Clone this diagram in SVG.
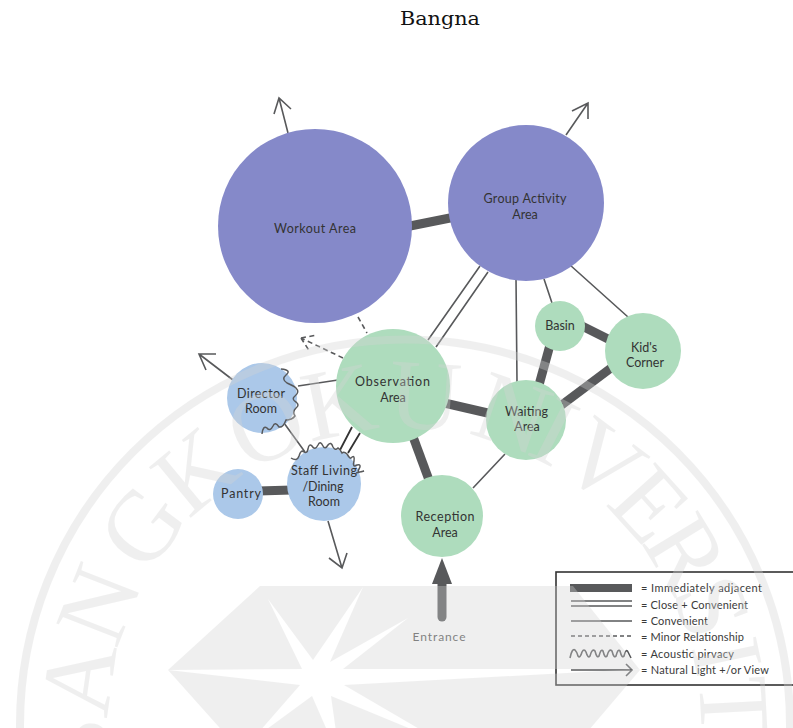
<svg xmlns="http://www.w3.org/2000/svg" width="793" height="728" viewBox="0 0 793 728">
<style>
.t{font-family:"Lato","Noto Sans",sans-serif;font-size:12.5px;fill:#333;text-anchor:middle}
.l{font-family:"Lato","Noto Sans",sans-serif;font-size:11px;fill:#3a3a3a}
.thick{stroke:#58595b;stroke-width:9;fill:none}
.thin{stroke:#58595b;stroke-width:1.6;fill:none}
.dark{stroke:#333;stroke-width:1.8;fill:none}
.dash{stroke:#58595b;stroke-width:1.6;fill:none;stroke-dasharray:5 3.5}
.wave{stroke:#58595b;stroke-width:1.5;fill:none}
.pur{fill:#8589c9}.grn{fill:#aedcbd}.blu{fill:#abc8e9}
.wm{font-family:"Liberation Serif",serif;font-size:100px;text-anchor:middle;fill:#d4d4d4}
</style>
<rect width="793" height="728" fill="#fff"/>
<text x="440" y="25" font-family="'DejaVu Serif',serif" font-size="19" fill="#111" text-anchor="middle" textLength="80" lengthAdjust="spacingAndGlyphs">Bangna</text>
<g id="connectors">
<path class="thick" d="M405 227L455 217"/>
<path class="thick" d="M440 402L492 414"/>
<path class="thick" d="M412 434L429 480"/>
<path class="thick" d="M539 385L550 345"/>
<path class="thick" d="M559 407L615 365"/>
<path class="thick" d="M580 325L612 341"/>
<path class="thick" d="M258 491L292 490"/>
<path class="thin" d="M480 266L428 340M488 272L436 347"/>
<path class="thin" d="M516 278L517 382M544 279L552 303M570 265L628 317M505 454L473 488M298 386L338 380M284 423L305 452"/>
<path class="dark" d="M352 427L340 450M360 433L348 453"/>
<path class="dash" d="M358 317L367 333M343 358L301 338M301 338L317 335M301 338L310 352"/>
<path class="thin" d="M288 133L279 98M274 114L279 98L291 109"/>
<path class="thin" d="M566 135L588 103M572 111L588 103L588 119"/>
<path class="thin" d="M233 380L199 354M216 354L199 354L206 370"/>
<path class="thin" d="M328 521L342 568M329 558L342 568L347 553"/>
<path d="M442 617V582" stroke="#58595b" stroke-width="9" stroke-linecap="round" fill="none"/>
<path d="M442 558L452 584H432Z" fill="#58595b"/>
</g>
<g id="workout"><circle class="pur" cx="315" cy="226" r="97"/><text class="t" x="315" y="233" textLength="82">Workout Area</text></g>
<g id="group"><circle class="pur" cx="526" cy="203" r="78"/><text class="t" x="525" y="203" textLength="83">Group Activity</text><text class="t" x="525" y="219">Area</text></g>
<g id="observation"><circle class="grn" cx="393" cy="386" r="57"/><text class="t" x="392.500" y="386" textLength="75">Observation</text><text class="t" x="393" y="402">Area</text></g>
<g id="waiting"><circle class="grn" cx="526" cy="420" r="40"/><text class="t" x="526.500" y="416" textLength="43">Waiting</text><text class="t" x="527" y="431">Area</text></g>
<g id="basin"><circle class="grn" cx="560" cy="326" r="25"/><text class="t" x="560" y="330">Basin</text></g>
<g id="kids"><circle class="grn" cx="643" cy="351" r="38"/><text class="t" x="644" y="352">Kid's</text><text class="t" x="645" y="367">Corner</text></g>
<g id="reception"><circle class="grn" cx="442" cy="516" r="41"/><text class="t" x="445" y="521" textLength="59">Reception</text><text class="t" x="445" y="537">Area</text></g>
<g id="director"><circle class="blu" cx="262" cy="398" r="35"/><path class="wave" d="M281 369Q292 370 286 375Q281 379 287 383Q294 386 296 388Q300 392 295 396Q291 399 296 402Q300 405 296 408Q292 412 295 416Q292 420 286 420Q283 428 279 427Q275 421 273 426Q270 432 267 428Q263 425 262 434"/><text class="t" x="261" y="398" textLength="48">Director</text><text class="t" x="261" y="413">Room</text></g>
<g id="pantry"><circle class="blu" cx="238" cy="494" r="25"/><text class="t" x="241" y="498" textLength="40">Pantry</text></g>
<g id="staff"><circle class="blu" cx="324" cy="484" r="37"/><path class="wave" d="M291 458Q297 462 299 456Q301 449 304 452Q307 454 308 449Q309 443 312 446Q315 451 318 445Q320 440 323 446Q325 450 328 445Q331 441 333 447Q335 451 338 448Q340 449 342 453Q344 451 347 454Q350 459 351 458Q355 454 354 461Q352 468 357 465Q362 464 359 469Q356 474 364 471L356 473"/><text class="t" x="324" y="475" textLength="66">Staff Living</text><text class="t" x="323" y="491" textLength="41">/Dining</text><text class="t" x="324" y="506">Room</text></g>
<text x="439" y="641" font-family="Lato,'Noto Sans',sans-serif" font-size="12" fill="#555" text-anchor="middle" textLength="53">Entrance</text>
<g id="legend">
<rect x="556" y="572" width="240" height="113" fill="none" stroke="#333" stroke-width="1.6"/>
<rect x="570" y="584" width="62" height="8" fill="#58595b"/>
<path class="thin" d="M571 601H632M571 606H632M571 621H632"/>
<path class="thin" stroke-dasharray="4 3" d="M571 636H632"/>
<path class="thin" d="M570 658Q572 648 575 650Q577 652 578 656Q580 659 582 652Q584 648 586 652Q588 659 590 656Q592 648 595 651Q597 659 599 656Q601 648 603 651Q605 659 607 656Q609 648 612 651Q614 659 616 656Q618 648 620 651Q622 659 624 656Q626 648 628 652L631 658"/>
<path class="thin" d="M571 670H632M626 664L632 670L626 676"/>
<text class="l" x="641" y="592" textLength="121">= Immediately adjacent</text>
<text class="l" x="641" y="609" textLength="107">= Close + Convenient</text>
<text class="l" x="641" y="625" textLength="67">= Convenient</text>
<text class="l" x="641" y="641" textLength="103">= Minor Relationship</text>
<text class="l" x="641" y="658" textLength="93">= Acoustic pirvacy</text>
<text class="l" x="641" y="674" textLength="128">= Natural Light +/or View</text>
</g>
<g id="watermark" opacity="0.35">
<circle cx="405" cy="724.500" r="385" fill="none" stroke="#d4d4d4" stroke-width="8"/>
<path fill="#d4d4d4" fill-rule="evenodd" d="M260 586L573 586L640 670L560 764L252 764L168 670ZM168 670L302 669L268 599L313 660L363 587L330 662L408 618L343 669L640 669L344 685L440 741L331 696L340 760L312 696L252 740L300 685Z"/>
<g class="wmg">
<text class="wm" x="405" y="428.500" transform="rotate(-95 405 724.500)">B</text>
<text class="wm" x="405" y="428.500" transform="rotate(-82 405 724.500)">A</text>
<text class="wm" x="405" y="428.500" transform="rotate(-68.600 405 724.500)">N</text>
<text class="wm" x="405" y="428.500" transform="rotate(-53 405 724.500)">G</text>
<text class="wm" x="405" y="428.500" transform="rotate(-39.600 405 724.500)">K</text>
<text class="wm" x="405" y="428.500" transform="rotate(-25 405 724.500)">O</text>
<text class="wm" x="405" y="428.500" transform="rotate(-11.600 405 724.500)">K</text>
<text class="wm" x="405" y="428.500" transform="rotate(3.500 405 724.500)">U</text>
<text class="wm" x="405" y="428.500" transform="rotate(19 405 724.500)">N</text>
<text class="wm" x="405" y="428.500" transform="rotate(27 405 724.500)">I</text>
<text class="wm" x="405" y="428.500" transform="rotate(37 405 724.500)">V</text>
<text class="wm" x="405" y="428.500" transform="rotate(48 405 724.500)">E</text>
<text class="wm" x="405" y="428.500" transform="rotate(58.600 405 724.500)">R</text>
<text class="wm" x="405" y="428.500" transform="rotate(69 405 724.500)">S</text>
<text class="wm" x="405" y="428.500" transform="rotate(78 405 724.500)">I</text>
<text class="wm" x="405" y="428.500" transform="rotate(87 405 724.500)">T</text>
</g>
</g>
</svg>
